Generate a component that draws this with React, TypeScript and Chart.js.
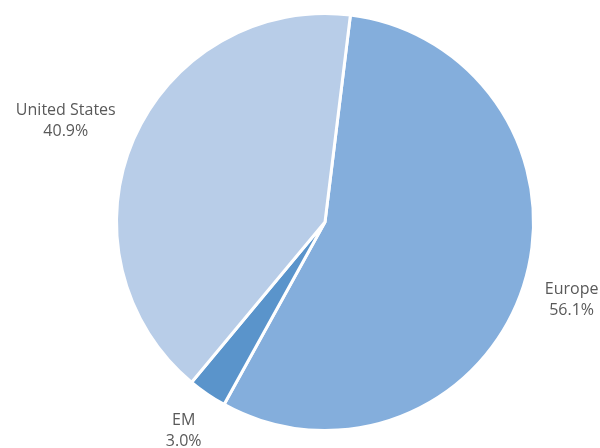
import React, { useEffect, useRef } from "react";
import { Chart, registerables } from "chart.js";

Chart.register(...registerables);

const categories = ["Europe", "EM", "United States"];
const shares = [56.1, 3.0, 40.9];
const shareLabels = ["56.1%", "3.0%", "40.9%"];
const sliceColors = ["#84AEDC", "#5A94CB", "#B8CDE8"];

const labelPlugin = {
  id: "outsideLabels",
  afterDatasetsDraw(chart: any) {
    const ctx = chart.ctx;
    const meta = chart.getDatasetMeta(0);
    ctx.save();
    ctx.font = "16px 'Open Sans', Lato, sans-serif";
    ctx.fillStyle = "#595959";
    ctx.textAlign = "center";
    ctx.textBaseline = "middle";
    const lineH = 21;
    meta.data.forEach((arc: any, i: number) => {
      const { x, y, startAngle, endAngle, outerRadius } = arc.getProps(
        ["x", "y", "startAngle", "endAngle", "outerRadius"],
        true
      );
      const mid = (startAngle + endAngle) / 2;
      const dx = Math.cos(mid);
      const dy = Math.sin(mid);
      const r = outerRadius + 24;
      const ax = x + dx * r;
      const ay = y + dy * r;
      const lines = [categories[i], shareLabels[i]];
      const w = Math.max(...lines.map((l) => ctx.measureText(l).width));
      const h = lines.length * lineH;
      const cx = ax + dx * (w / 2);
      const cy = ay + dy * (h / 2);
      lines.forEach((l, k) => {
        ctx.fillText(l, cx, cy - h / 2 + lineH / 2 + k * lineH);
      });
    });
    ctx.restore();
  },
};

export default function App() {
  const ref = useRef<HTMLCanvasElement>(null);
  useEffect(() => {
    if (!ref.current) return;
    const chart = new Chart(ref.current, {
      type: "pie",
      data: {
        labels: categories,
        datasets: [
          {
            data: shares,
            backgroundColor: sliceColors,
            borderColor: "#ffffff",
            borderWidth: 3,
            hoverOffset: 0,
            offset: 0,
          },
        ],
      },
      options: {
        animation: false,
        responsive: false,
        rotation: 7,
        layout: { padding: { top: 12, bottom: 16, left: 115, right: 65 } },
        plugins: {
          legend: { display: false },
          tooltip: { enabled: false },
        },
      },
      plugins: [labelPlugin],
    });
    return () => chart.destroy();
  }, []);
  return (
    <div style={{ position: "fixed", left: 0, top: 0, width: 600, height: 448, background: "#fff" }}>
      <canvas ref={ref} width={600} height={448} style={{ width: 600, height: 448 }} />
    </div>
  );
}
